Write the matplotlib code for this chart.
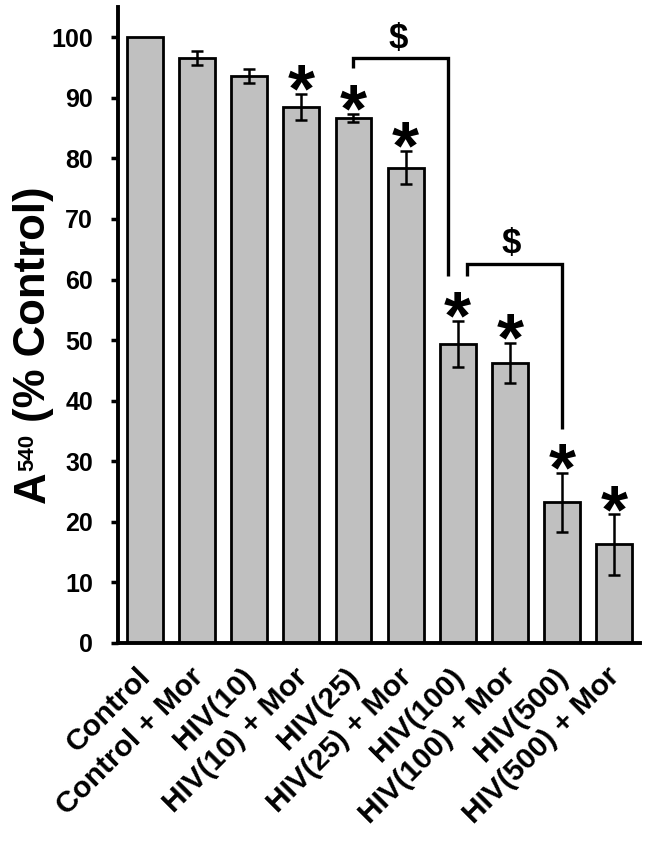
import numpy as np
import matplotlib
matplotlib.use("Agg")
import matplotlib.pyplot as plt
from matplotlib.transforms import ScaledTranslation

plt.rcParams['font.family'] = ['Liberation Sans', 'DejaVu Sans']
plt.rcParams['font.weight'] = 'bold'

groups = ['Control', 'Control + Mor', 'HIV(10)', 'HIV(10) + Mor', 'HIV(25)',
          'HIV(25) + Mor', 'HIV(100)', 'HIV(100) + Mor', 'HIV(500)', 'HIV(500) + Mor']
means = [100, 96.6, 93.6, 88.5, 86.7, 78.5, 49.4, 46.3, 23.2, 16.3]
errs = [0, 1.1, 1.2, 2.2, 0.7, 2.8, 3.8, 3.3, 4.9, 5.0]
signif = [False, False, False, True, True, True, True, True, True, True]

# brackets: (left x, right x, top y, left foot y, right foot y, $ x, $ y)
brackets = [(4.0, 5.82, 96.6, 94.9, 60.6, 4.86, 98.3),
            (6.17, 8.0, 62.5, 60.6, 35.4, 7.02, 64.4)]

W, H = 647, 841
fig = plt.figure(figsize=(W / 100, H / 100), dpi=100)
ax = fig.add_axes([118 / W, 1 - 643 / H, 522 / W, 636 / H])

x = np.arange(len(groups))
ax.bar(x, means, width=0.69, color='#c0c0c0', edgecolor='black', linewidth=2, zorder=2)
ax.errorbar(x[1:], means[1:], yerr=errs[1:], fmt='none', ecolor='black',
            elinewidth=1.8, capsize=4, capthick=1.8, zorder=3)

for i in range(len(groups)):
    if signif[i]:
        ax.annotate('*', (x[i], means[i] + errs[i]), xytext=(0, -13),
                    textcoords='offset points', ha='center', va='baseline',
                    fontsize=50, fontweight='bold')

for xl, xr, yt, yl, yr, dx, dy in brackets:
    ax.plot([xl, xl, xr, xr], [yl, yt, yt, yr], color='black', lw=2.4,
            solid_joinstyle='miter', solid_capstyle='butt', zorder=4)
    ax.text(dx, dy, '$', ha='center', va='baseline', fontsize=25, fontweight='bold')

ax.set_xlim(-0.52, 9.5)
ax.set_ylim(0, 105)
ax.set_yticks(np.arange(0, 101, 10))
ax.tick_params(axis='y', labelsize=18, width=2.5, length=5, pad=13)
ax.tick_params(axis='x', length=0, pad=14)
ax.set_xticks(x)
ax.set_xticklabels(groups, rotation=45, ha='right', va='top',
                   rotation_mode='anchor', fontsize=21.5, fontweight='bold')
shift = ScaledTranslation(-6 / 72, 0, fig.dpi_scale_trans)
for lab in ax.get_xticklabels():
    lab.set_transform(lab.get_transform() + shift)
for lab in ax.get_yticklabels():
    lab.set_fontweight('bold')

ax.spines['top'].set_visible(False)
ax.spines['right'].set_visible(False)
ax.spines['left'].set_linewidth(2.8)
ax.spines['bottom'].set_linewidth(2.8)

# y label built from pieces: big A, small raised 540, then the rest
renderer = fig.canvas.get_renderer()
xb, yb = 45, H - 503
parts = [('A', 31.5, 0), ('540', 16, 12), (' (% Control)', 31.5, 0)]
for txt, fs, raise_px in parts:
    t = fig.text((xb - raise_px) / W, yb / H, txt, fontsize=fs, fontweight='bold',
                 rotation=90, rotation_mode='anchor', ha='left', va='baseline')
    bb = t.get_window_extent(renderer)
    yb += bb.height

fig.savefig('out.png', dpi=100)
